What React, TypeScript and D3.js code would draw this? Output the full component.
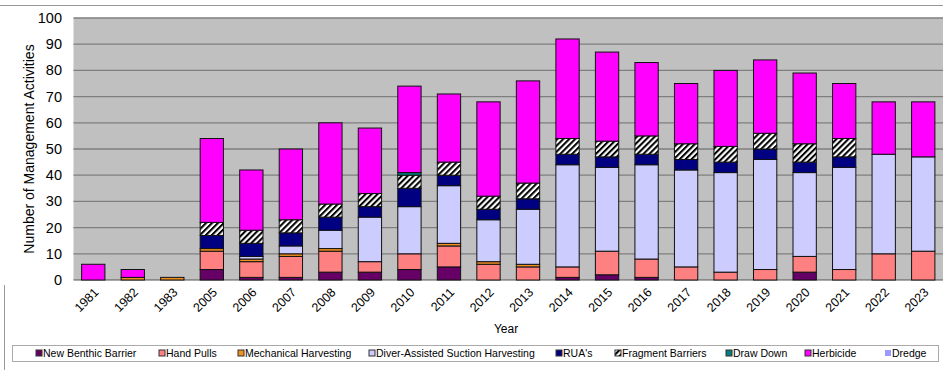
import React from 'react';
import * as d3 from 'd3';

const years = ['1981','1982','1983','2005','2006','2007','2008','2009','2010','2011','2012','2013','2014','2015','2016','2017','2018','2019','2020','2021','2022','2023'];
const newBenthicBarrier = [0,0,0,4,1,1,3,3,4,5,0,0,1,2,1,0,0,0,3,0,0,0];
const handPulls = [0,0,0,7,6,8,8,4,6,8,6,5,4,9,7,5,3,4,6,4,10,11];
const mechanicalHarvesting = [0,1,1,1,1,1,1,0,0,1,1,1,0,0,0,0,0,0,0,0,0,0];
const diverAssisted = [0,0,0,0,1,3,7,17,18,22,16,21,39,32,36,37,38,42,32,39,38,36];
const ruas = [0,0,0,5,5,5,5,4,7,4,4,4,4,4,4,4,4,4,4,4,0,0];
const fragmentBarriers = [0,0,0,5,5,5,5,5,5,5,5,6,6,6,7,6,6,6,7,7,0,0];
const drawDown = [0,0,0,0,0,0,0,0,1,0,0,0,0,0,0,0,0,0,0,0,0,0];
const herbicide = [6,3,0,32,23,27,31,25,33,26,36,39,38,34,28,23,29,28,27,21,20,21];
const dredge = [0,0,0,0,0,0,0,0,0,0,0,0,0,0,0,0,0,0,0,0,0,0];
const yTicks = [0,10,20,30,40,50,60,70,80,90,100];

const seriesNames = ['New Benthic Barrier','Hand Pulls','Mechanical Harvesting','Diver-Assisted Suction Harvesting',"RUA's",'Fragment Barriers','Draw Down','Herbicide','Dredge'];
const seriesValues = [newBenthicBarrier, handPulls, mechanicalHarvesting, diverAssisted, ruas, fragmentBarriers, drawDown, herbicide, dredge];
const seriesColors = ['#660066','#FF8080','#F09020','#CCCCFF','#000080','url(#hatch)','#008080','#FF00FF','#9999FF'];
const legendX = [39,162,241,372,559,618,729,808,888];

const W = 943, H = 370;
const plotL = 73.5, plotR = 943, plotT = 18, plotB = 280;
const FONT = '"Liberation Sans", Arial, sans-serif';

export default function App() {
  const x = d3.scaleBand<string>().domain(years).range([plotL, plotR]).paddingInner(0.41).paddingOuter(0.205);
  const y = d3.scaleLinear().domain([0, 100]).range([plotB, plotT]);
  const table = years.map((yr, i) => {
    const row: any = { year: yr };
    seriesNames.forEach((n, k) => (row[n] = seriesValues[k][i]));
    return row;
  });
  const stacked = d3.stack<any>().keys(seriesNames)(table);

  return (
    <svg width={W} height={H} style={{ position: 'absolute', left: 0, top: 0, background: '#fff' }} fontFamily={FONT}>
      <defs>
        <pattern id="hatch" patternUnits="userSpaceOnUse" width={4.2} height={4.2} patternTransform="rotate(45)">
          <rect width={4.2} height={4.2} fill="#fff" />
          <line x1={1} y1={0} x2={1} y2={4.2} stroke="#000" strokeWidth={2.1} />
        </pattern>
      </defs>
      <line x1={0} x2={W} y1={5.5} y2={5.5} stroke="#999" />
      <line x1={4.5} x2={4.5} y1={285} y2={H} stroke="#999" />
      <rect x={plotL} y={plotT} width={plotR - plotL} height={plotB - plotT} fill="#C0C0C0" />
      {yTicks.map(t => (
        <g key={t}>
          {t > 0 && <line x1={plotL} x2={plotR} y1={y(t)} y2={y(t)} stroke="#7f7f7f" strokeWidth={1.3} />}
          <text x={62} y={y(t)} dy="0.35em" textAnchor="end" fontSize={14.5} fill="#000">{t}</text>
        </g>
      ))}
      <line x1={plotL} x2={plotR} y1={plotB} y2={plotB} stroke="#555" strokeWidth={1} />
      {stacked.map((s, k) => (
        <g key={s.key}>
          {s.map((d, i) => d[1] - d[0] > 0 ? (
            <rect key={i} x={x(years[i])!} width={x.bandwidth()} y={y(d[1])} height={y(d[0]) - y(d[1])}
              fill={seriesColors[k]} stroke="#111" strokeWidth={1} />
          ) : null)}
        </g>
      ))}
      {years.map(yr => {
        const cx = x(yr)! + x.bandwidth() / 2;
        return (
          <text key={yr} transform={`translate(${cx + 3},${290}) rotate(-45)`} textAnchor="end" fontSize={12.5} dy="0.35em" fill="#000">{yr}</text>
        );
      })}
      <text x={506} y={333} textAnchor="middle" fontSize={12} fill="#000">Year</text>
      <text transform={`translate(29,${(plotT + plotB) / 2}) rotate(-90)`} textAnchor="middle" dy="0.35em" fontSize={14} fill="#000">Number of Management Activities</text>
      <rect x={12.5} y={345.5} width={926} height={16} fill="#fff" stroke="#aaa" />
      {seriesNames.map((n, k) => (
        <g key={n}>
          <rect x={legendX[k] - 3} y={350} width={6} height={6} fill={seriesColors[k]} stroke={k === 8 ? 'none' : '#333'} strokeWidth={1} />
          <text x={legendX[k] + 4} y={353.5} dy="0.35em" fontSize={10.5} fill="#000">{n}</text>
        </g>
      ))}
    </svg>
  );
}
